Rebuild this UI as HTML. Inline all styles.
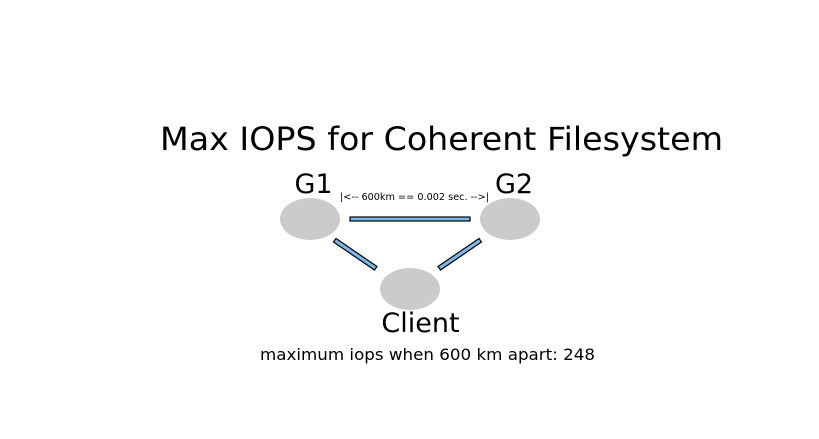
<!DOCTYPE html>
<html><head><meta charset="utf-8"><style>html,body{margin:0;padding:0;background:#fff;}svg{display:block}</style></head>
<body>
<svg width="819" height="439" viewBox="0 0 819 439" xmlns="http://www.w3.org/2000/svg" font-family="DejaVu Sans, sans-serif">
<rect width="819" height="439" fill="#fff"/>
<text x="441.5" y="150" font-size="32" text-anchor="middle" textLength="563" lengthAdjust="spacingAndGlyphs">Max IOPS for Coherent Filesystem</text>
<text x="313.5" y="193" font-size="27" text-anchor="middle">G1</text>
<text x="514" y="193" font-size="27" text-anchor="middle">G2</text>
<text x="414.5" y="200" font-size="10" text-anchor="middle" textLength="149" lengthAdjust="spacingAndGlyphs">|&lt;-- 600km == 0.002 sec. --&gt;|</text>
<ellipse cx="310" cy="219" rx="30" ry="21" fill="#cbcbcb"/>
<ellipse cx="510" cy="219" rx="30" ry="21" fill="#cbcbcb"/>
<ellipse cx="410" cy="289" rx="30" ry="21" fill="#cbcbcb"/>
<rect x="350" y="217" width="120" height="4" fill="#7ab8ee" stroke="#000" stroke-width="1.2"/>
<polygon points="336,238.5 377,266.5 374.5,270 333.5,242" fill="#7ab8ee" stroke="#000" stroke-width="1.2"/>
<polygon points="479,238.5 438,266.5 440.5,270 481.5,242" fill="#7ab8ee" stroke="#000" stroke-width="1.2"/>
<text x="420.5" y="332" font-size="27" text-anchor="middle">Client</text>
<text x="427.5" y="360" font-size="16" text-anchor="middle" textLength="335" lengthAdjust="spacingAndGlyphs">maximum iops when 600 km apart: 248</text>
</svg>
</body></html>
